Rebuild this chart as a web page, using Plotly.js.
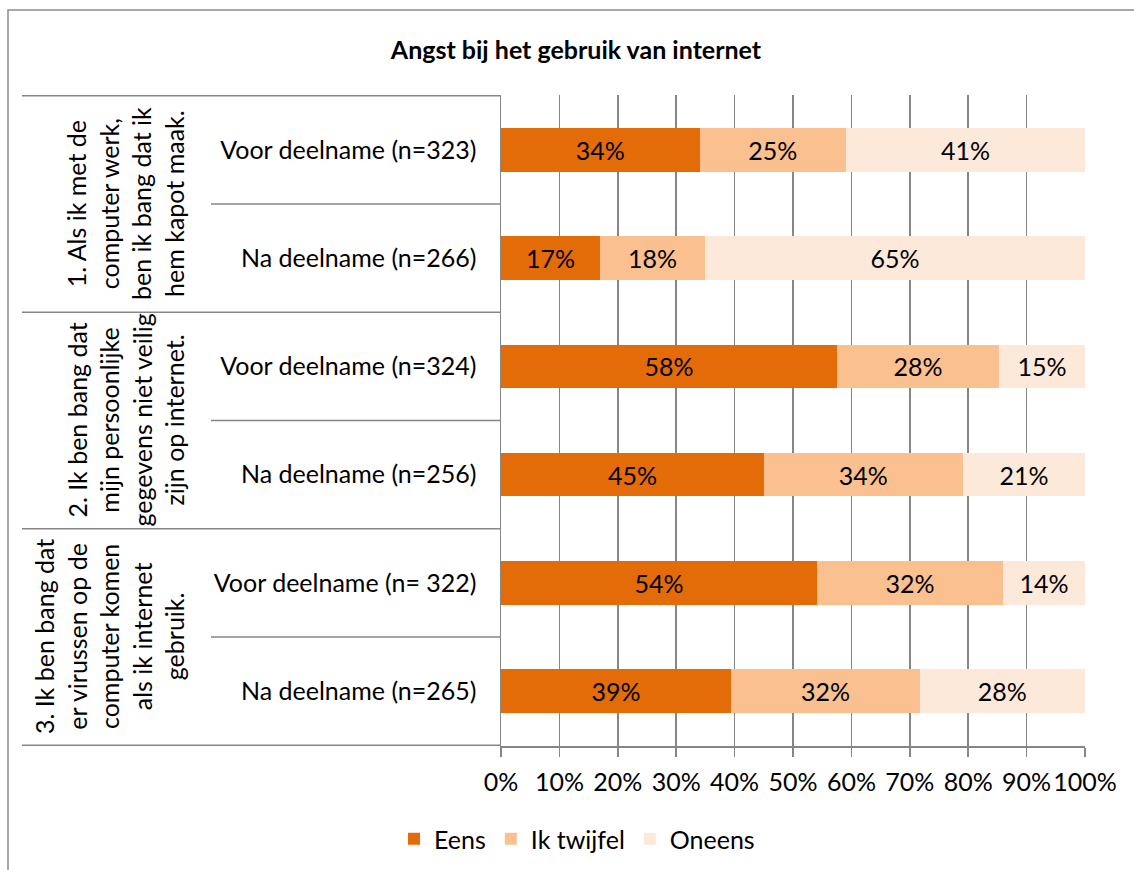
<!DOCTYPE html>
<html>
<head>
<meta charset="utf-8">
<script src="https://cdn.plot.ly/plotly-3.0.1.min.js"></script>
<style>
  html, body { margin: 0; padding: 0; background: #fff; }
  #chart { width: 1134px; height: 870px; }
</style>
</head>
<body>
<div id="chart"></div>
<script>
// ---- data ----
const categories = [
  "Voor deelname (n=323)",
  "Na deelname (n=266)",
  "Voor deelname (n=324)",
  "Na deelname (n=256)",
  "Voor deelname (n= 322)",
  "Na deelname (n=265)"
];
const groupLabels = [
  "1. Als ik met de<br>computer werk,<br>ben ik bang dat ik<br>hem kapot maak.",
  "2. Ik ben bang dat<br>mijn persoonlijke<br>gegevens niet veilig<br>zijn op internet.",
  "3. Ik ben bang dat<br>er virussen op de<br>computer komen<br>als ik internet<br>gebruik."
];
const groupSizes = [2, 2, 2];
const seriesNames = ["Eens", "Ik twijfel", "Oneens"];
const eens    = [34.0, 17.0, 57.5, 45.0, 54.1, 39.4];
const twijfel = [25.1, 17.9, 27.8, 34.1, 31.9, 32.3];
const oneens  = [40.9, 65.1, 14.7, 20.9, 14.0, 28.3];
const eensLabels    = ["34%", "17%", "58%", "45%", "54%", "39%"];
const twijfelLabels = ["25%", "18%", "28%", "34%", "32%", "32%"];
const oneensLabels  = ["41%", "65%", "15%", "21%", "14%", "28%"];
const xTickVals = [0, 10, 20, 30, 40, 50, 60, 70, 80, 90, 100];
const xTickLabels = ["0%", "10%", "20%", "30%", "40%", "50%", "60%", "70%", "80%", "90%", "100%"];
const chartTitle = "Angst bij het gebruik van internet";

// ---- styling ----
const FONT = "Lato, 'Open Sans', sans-serif";
const FS = 25;
const GRID = "#868686";
const colors = ["#E36C09", "#FAC090", "#FDE9D9"];
const W = 1134, H = 870;
const margin = { l: 501, r: 49, t: 95, b: 124 };
const plotW = W - margin.l - margin.r;
const plotH = H - margin.t - margin.b;
const px2x = p => (p - margin.l) / plotW;
const px2y = p => (H - margin.b - p) / plotH;

const values = [eens, twijfel, oneens];
const labels = [eensLabels, twijfelLabels, oneensLabels];
const traces = seriesNames.map((name, i) => ({
  type: "bar",
  orientation: "h",
  name: name,
  y: categories,
  x: values[i],
  text: labels[i],
  texttemplate: "%{text}",
  textposition: "inside",
  insidetextanchor: "middle",
  textangle: 0,
  constraintext: "none",
  textfont: { family: FONT, size: FS, color: "#000" },
  marker: { color: colors[i], line: { width: 0 } },
  hoverinfo: "skip"
}));

// dividers
const shapes = [];
const lineStyle = { color: GRID, width: 1.5 };
let idx = 0;
shapes.push({ type: "line", xref: "paper", yref: "y", x0: px2x(22), x1: 0, y0: -0.5, y1: -0.5, line: lineStyle });
const annotations = [];
groupSizes.forEach((n, g) => {
  const start = idx;
  for (let k = 1; k < n; k++) {
    shapes.push({ type: "line", xref: "paper", yref: "y", x0: px2x(211), x1: 0,
      y0: start + k - 0.5, y1: start + k - 0.5, line: lineStyle });
  }
  idx += n;
  shapes.push({ type: "line", xref: "paper", yref: "y", x0: px2x(22), x1: 0,
    y0: idx - 0.5, y1: idx - 0.5, line: lineStyle });
  annotations.push({
    xref: "paper", yref: "y",
    x: px2x(191), y: start + (n - 1) / 2,
    xanchor: "right", yanchor: "middle",
    text: groupLabels[g], textangle: -90, align: "center",
    showarrow: false,
    font: { family: FONT, size: FS, color: "#000" }
  });
});
// outer chart border
shapes.push({ type: "rect", xref: "paper", yref: "paper",
  x0: px2x(8), x1: px2x(1150), y0: px2y(885), y1: px2y(10),
  line: { color: "#8c8c8c", width: 1.5 }, fillcolor: "rgba(0,0,0,0)" });

const layout = {
  width: W, height: H,
  margin: margin,
  paper_bgcolor: "#fff",
  plot_bgcolor: "#fff",
  font: { family: FONT, size: FS, color: "#000" },
  title: {
    text: "<b>" + chartTitle + "</b>",
    font: { family: FONT, size: 25, color: "#000" },
    xref: "paper", x: px2x(576), xanchor: "center",
    yref: "container", y: 1 - 50 / H, yanchor: "middle"
  },
  barmode: "stack",
  bargap: 0.6,
  showlegend: true,
  legend: {
    orientation: "h",
    xref: "container", x: 577 / W, xanchor: "center",
    yref: "container", y: 1 - 839 / H, yanchor: "middle",
    font: { family: FONT, size: FS, color: "#000" },
    traceorder: "normal"
  },
  xaxis: {
    range: [0, 100],
    tickmode: "array",
    tickvals: xTickVals,
    ticktext: xTickLabels,
    showgrid: true, gridcolor: GRID, gridwidth: 1.5,
    zeroline: false,
    showline: true, linecolor: GRID, linewidth: 1.5,
    ticks: "outside", ticklen: 9, tickwidth: 1.5, tickcolor: GRID,
    ticklabelstandoff: 4,
    automargin: false,
    tickfont: { family: FONT, size: FS, color: "#000" },
    fixedrange: true
  },
  yaxis: {
    type: "category",
    autorange: "reversed",
    showgrid: false,
    showline: true, linecolor: GRID, linewidth: 1.5,
    ticks: "",
    ticklabelstandoff: 18,
    automargin: false,
    tickfont: { family: FONT, size: FS, color: "#000" },
    fixedrange: true
  },
  shapes: shapes,
  annotations: annotations
};

Plotly.newPlot("chart", traces, layout, { staticPlot: true, displayModeBar: false });
</script>
</body>
</html>
